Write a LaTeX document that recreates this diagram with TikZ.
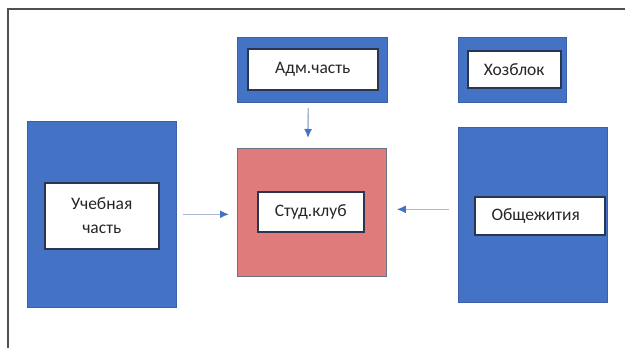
\documentclass[tikz,border=0pt]{standalone}
\usepackage{fontspec}
\setmainfont{Carlito}
\usetikzlibrary{arrows.meta}
\definecolor{offblue}{HTML}{4472C4}
\definecolor{clubred}{HTML}{E07B7B}
\definecolor{edgenavy}{HTML}{2A3550}
\definecolor{arrline}{HTML}{A8B8D0}
\definecolor{frame}{HTML}{505050}
\definecolor{textgray}{HTML}{262626}
\begin{document}
\begin{tikzpicture}[x=1pt,y=-1pt,
  outerbox/.style={draw=offblue!85!black,line width=0.6pt,fill=offblue,minimum width=#1},
  clubbox/.style={draw=edgenavy!70,line width=0.8pt,fill=clubred},
  label/.style={draw=edgenavy,line width=1.5pt,fill=white,text=textgray,font=\fontsize{17.5}{21}\selectfont,align=center,inner sep=0pt},
  arr/.style={draw=arrline,line width=1.4pt,-{Latex[length=9pt,width=8pt,color=offblue]}}]
\useasboundingbox (0,0) rectangle (625,348);
\fill[white] (0,0) rectangle (625,348);
\coordinate (fa) at (8,348);
\coordinate (fb) at (8,8.5);
\coordinate (fc) at (625,8.5);
\draw[frame,line width=2pt] (fa) -- (fb) -- (fc);
% outer boxes
\node[outerbox=150pt,minimum height=65pt,anchor=north west] (adm) at (237,36.5) {};
\node[outerbox=108pt,minimum height=65pt,anchor=north west] (hoz) at (458,36.5) {};
\node[outerbox=149pt,minimum height=186pt,anchor=north west] (uch) at (27,121) {};
\node[outerbox=149pt,minimum height=175pt,anchor=north west] (obsh) at (458,127) {};
\node[clubbox,minimum width=149pt,minimum height=128pt,anchor=north west] (club) at (237,148) {};
% inner labels
\node[label,minimum width=130pt,minimum height=41pt,anchor=north west] (admt) at (247,48) {Адм.часть};
\node[label,minimum width=93pt,minimum height=37pt,anchor=north west] (hozt) at (467,50) {Хозблок};
\node[label,minimum width=114pt,minimum height=66pt,anchor=north west] (ucht) at (44,182) {Учебная\\[3pt]часть};
\node[label,minimum width=130pt,minimum height=38pt,anchor=north west] (obsht) at (474,196) {Общежития\hspace{8pt}};
\node[label,minimum width=106pt,minimum height=40pt,anchor=north west] (clubt) at (257,191) {Студ.клуб};
% arrows
\draw[arr,shorten <=6pt,shorten >=8pt] (uch.east) -- (uch.east -| club.west);
\draw[arr,shorten <=9pt,shorten >=10pt] ([yshift=5.5pt]obsh.west) -- ([yshift=5.5pt]obsh.west -| club.east);
\draw[arr,shorten <=6pt,shorten >=10pt] ([xshift=-4pt]adm.south) -- ([xshift=-4pt]club.north);
\end{tikzpicture}
\end{document}
